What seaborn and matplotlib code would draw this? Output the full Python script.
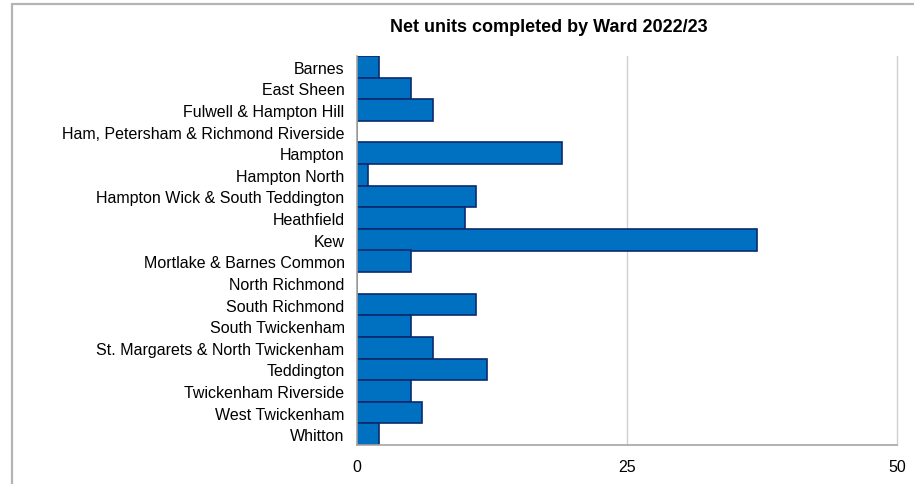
import matplotlib
matplotlib.use("Agg")
import matplotlib.pyplot as plt
from matplotlib.lines import Line2D
import seaborn as sns
import pandas as pd

wards = [
    "Barnes", "East Sheen", "Fulwell & Hampton Hill",
    "Ham, Petersham & Richmond Riverside", "Hampton", "Hampton North",
    "Hampton Wick & South Teddington", "Heathfield", "Kew",
    "Mortlake & Barnes Common", "North Richmond", "South Richmond",
    "South Twickenham", "St. Margarets & North Twickenham", "Teddington",
    "Twickenham Riverside", "West Twickenham", "Whitton",
]
net_units = [2, 5, 7, 0, 19, 1, 11, 10, 37, 5, 0, 11, 5, 7, 12, 5, 6, 2]
x_ticks = [0, 25, 50]
title = "Net units completed by Ward 2022/23"

df = pd.DataFrame({"ward": wards, "units": net_units})

sns.set_theme(style="white")
plt.rcParams["font.family"] = ["Liberation Sans", "DejaVu Sans"]

fig = plt.figure(figsize=(9.14, 4.85), dpi=100)
W, H = 914, 485
ax = fig.add_axes([357 / W, 1 - 446 / H, (897 - 357) / W, (446 - 57) / H])

sns.barplot(data=df, y="ward", x="units", orient="h", ax=ax,
            color="#0070C0", edgecolor="#0A2A6E", linewidth=1.2,
            width=1.0, saturation=1)

ax.set_xlim(0, 50)
ax.set_xticks(x_ticks)
ax.set_xticklabels([str(t) for t in x_ticks], fontsize=11.5, color="#000000")
ax.tick_params(axis="y", labelsize=11.5, labelcolor="#000000")
ax.set_xlabel("")
ax.set_ylabel("")

# Grid lines at the major x ticks
for t in x_ticks[1:]:
    ax.axvline(t, color="#d0d0d0", linewidth=1.0, zorder=0, clip_on=False)

for side in ["top", "right"]:
    ax.spines[side].set_visible(False)
for side in ["left", "bottom"]:
    ax.spines[side].set_color("#a6a6a6")
    ax.spines[side].set_linewidth(1.2)

# Tick marks on category boundaries for y, outward on both axes
n = len(wards)
ax.set_yticks([i - 0.5 for i in range(n + 1)], minor=True)
ax.tick_params(axis="y", which="major", length=0, pad=9)
ax.tick_params(axis="y", which="minor", length=5, color="#a6a6a6", width=1.2, direction="out")
ax.tick_params(axis="x", which="major", length=5, color="#a6a6a6", width=1.2, direction="out", pad=5)

fig.text(549 / W, 1 - 27 / H, title, ha="center", va="center",
         fontsize=13, fontweight="bold", color="#000000")

# Outer frame lines around the chart area
frame_kw = dict(color="#b4b4b4", linewidth=1.6, transform=fig.transFigure)
fig.add_artist(Line2D([12 / W, 12 / W], [1 - 5 / H, 0], **frame_kw))
fig.add_artist(Line2D([12 / W, 1], [1 - 5 / H, 1 - 5 / H], **frame_kw))

fig.savefig("out.png", dpi=100, facecolor="white")
